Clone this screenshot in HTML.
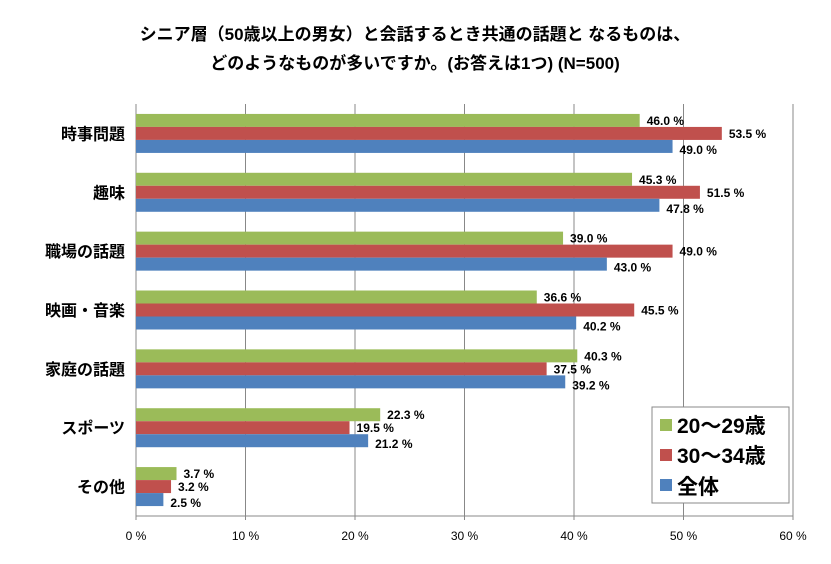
<!DOCTYPE html>
<html><head><meta charset="utf-8"><style>
body{margin:0;background:#fff;}
svg{display:block;font-family:"Liberation Sans","Noto Sans CJK JP",sans-serif;}
</style></head><body>
<svg id="chart" width="831" height="564">
<text x="415" y="40" text-anchor="middle" font-size="17" font-weight="bold">シニア層（50歳以上の男女）と会話するとき共通の話題と なるものは、</text>
<text x="415" y="69" text-anchor="middle" font-size="17" font-weight="bold">どのようなものが多いですか。(お答えは1つ) (N=500)</text>
<g id="grid"></g><g id="bars"></g><g id="labels"></g>
<g>
<rect x="652" y="407" width="137" height="96" fill="#fff" stroke="#888"/>
<rect x="660" y="419" width="12" height="12" fill="#9BBB59"/>
<text x="677" y="433" font-size="21" font-weight="bold">20～29歳</text>
<rect x="660" y="449" width="12" height="12" fill="#C0504D"/>
<text x="677" y="463" font-size="21" font-weight="bold">30～34歳</text>
<rect x="660" y="479" width="12" height="12" fill="#4F81BD"/>
<text x="677" y="494" font-size="21" font-weight="bold">全体</text>
</g>
</svg>
<script>
const categories=["時事問題","趣味","職場の話題","映画・音楽","家庭の話題","スポーツ","その他"];
const s2029=[46.0,45.3,39.0,36.6,40.3,22.3,3.7];
const s3034=[53.5,51.5,49.0,45.5,37.5,19.5,3.2];
const sAll=[49.0,47.8,43.0,40.2,39.2,21.2,2.5];
const ticks=[0,10,20,30,40,50,60];
const NS="http://www.w3.org/2000/svg";
const x0=136,xs=10.95,plotTop=104,plotBottom=516,band=(plotBottom-plotTop)/categories.length,bh=13;
const X=v=>x0+v*xs;
function mk(t,a,p){const e=document.createElementNS(NS,t);for(const k in a)e.setAttribute(k,a[k]);p.appendChild(e);return e;}
const grid=document.getElementById('grid'),bars=document.getElementById('bars'),labels=document.getElementById('labels');
ticks.forEach(t=>{
 const l=mk('line',{x1:X(t),x2:X(t),y1:plotTop,y2:plotBottom+4,stroke:'#888','stroke-width':1},grid);
 
 
 const tx=mk('text',{x:X(t),y:plotBottom+24,'text-anchor':'middle','font-size':12},grid);
 tx.textContent=t+' %';
 
 
});
const ax=mk('line',{x1:x0,x2:X(60),y1:plotBottom,y2:plotBottom,stroke:'#888'},grid);


const series=[[s2029,'#9BBB59','20-29'],[s3034,'#C0504D','30-34'],[sAll,'#4F81BD','all']];
categories.forEach((c,i)=>{
 const yc=plotTop+band*i+band/2;
 const ct=mk('text',{x:125,y:yc+6,'text-anchor':'end','font-size':16,'font-weight':'bold'},labels);
 ct.textContent=c;
 
 
 series.forEach((s,j)=>{
  const y=yc-19.5+j*bh;
  const r=mk('rect',{x:x0,y:y,width:X(s[0][i])-x0,height:bh,fill:s[1]},bars);
  
  
  const t=mk('text',{x:X(s[0][i])+7,y:y+11+(j==2?3:0),'font-size':12,'font-weight':'bold'},labels);
  t.textContent=s[0][i].toFixed(1)+' %';
  
  
 });
});
</script>
</body></html>
